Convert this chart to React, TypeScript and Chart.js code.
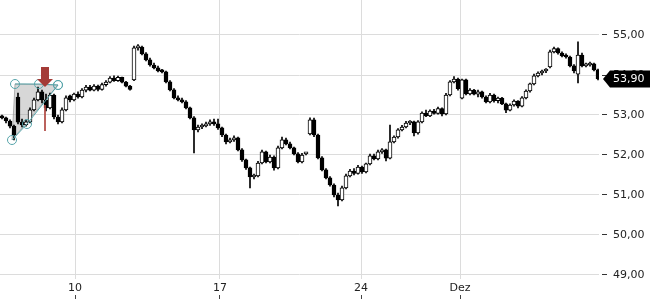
import React, { useEffect, useRef } from 'react';
import { Chart, registerables } from 'chart.js';

Chart.register(...registerables);

// OHLC candles (one per index)
const opens = [
  52.98, 52.93, 52.85, 52.72, 53.45, 52.82, 52.75, 52.83, 53.13, 53.38,
  53.58, 53.38, 53.18, 53.50, 52.95, 52.83, 53.13, 53.48, 53.38, 53.52,
  53.45, 53.62, 53.70, 53.62, 53.72, 53.64, 53.76, 53.82, 53.92, 53.86,
  53.94, 53.82, 53.72, 53.88, 54.68, 54.70, 54.53, 54.38, 54.25, 54.18,
  54.10, 54.08, 53.83, 53.63, 53.43, 53.38, 53.33, 53.18, 52.93, 52.63,
  52.70, 52.73, 52.78, 52.83, 52.78, 52.68, 52.50, 52.33, 52.38, 52.43,
  52.13, 51.88, 51.68, 51.45, 51.48, 51.80, 52.08, 51.83, 51.95, 51.68,
  52.18, 52.38, 52.28, 52.18, 52.03, 51.83, 52.03, 52.53, 52.88, 52.50,
  51.93, 51.63, 51.43, 51.25, 51.00, 50.88, 51.18, 51.48, 51.60, 51.54,
  51.70, 51.58, 51.78, 51.98, 51.90, 52.08, 52.13, 51.92, 52.33, 52.45,
  52.63, 52.70, 52.80, 52.83, 52.55, 52.83, 53.05, 52.98, 53.10, 53.04,
  53.16, 53.03, 53.50, 53.83, 53.90, 53.42, 53.88, 53.53, 53.62, 53.52,
  53.58, 53.45, 53.33, 53.50, 53.36, 53.42, 53.28, 53.12, 53.25, 53.35,
  53.22, 53.43, 53.60, 53.78, 53.98, 54.05, 54.10, 54.20, 54.58, 54.66,
  54.55, 54.48, 54.45, 54.23, 54.02, 54.50, 54.23, 54.25, 54.28, 54.13,
];
const highs = [
  53.00, 52.95, 52.88, 52.75, 53.55, 52.90, 52.88, 53.18, 53.42, 53.70,
  53.62, 53.52, 53.55, 53.52, 53.00, 53.18, 53.48, 53.50, 53.55, 53.58,
  53.66, 53.74, 53.74, 53.76, 53.75, 53.80, 53.86, 53.96, 53.98, 53.97,
  53.95, 53.84, 53.74, 54.72, 54.76, 54.72, 54.56, 54.42, 54.30, 54.22,
  54.14, 54.10, 53.86, 53.66, 53.48, 53.42, 53.36, 53.20, 52.96, 52.75,
  52.78, 52.82, 52.88, 52.90, 52.90, 52.70, 52.52, 52.42, 52.48, 52.45,
  52.16, 51.90, 51.70, 51.52, 51.84, 52.12, 52.10, 52.00, 51.98, 52.22,
  52.45, 52.42, 52.32, 52.20, 52.06, 52.04, 52.06, 52.93, 52.92, 52.52,
  51.96, 51.66, 51.46, 51.28, 51.05, 51.22, 51.52, 51.64, 51.66, 51.74,
  51.72, 51.80, 52.02, 52.02, 52.12, 52.16, 52.15, 52.75, 52.48, 52.66,
  52.74, 52.84, 52.86, 52.85, 52.86, 53.08, 53.12, 53.13, 53.14, 53.20,
  53.18, 53.54, 53.86, 53.96, 53.92, 53.90, 53.90, 53.66, 53.64, 53.62,
  53.60, 53.48, 53.54, 53.52, 53.45, 53.44, 53.30, 53.28, 53.38, 53.36,
  53.46, 53.63, 53.80, 54.02, 54.08, 54.12, 54.16, 54.62, 54.70, 54.68,
  54.58, 54.53, 54.47, 54.26, 54.83, 54.55, 54.30, 54.32, 54.30, 54.15,
];
const lows = [
  52.90, 52.80, 52.68, 52.38, 52.78, 52.70, 52.72, 52.80, 53.10, 53.35,
  53.30, 53.10, 53.15, 52.90, 52.78, 52.80, 53.10, 53.33, 53.35, 53.42,
  53.43, 53.58, 53.60, 53.60, 53.60, 53.62, 53.72, 53.80, 53.84, 53.84,
  53.80, 53.70, 53.62, 53.86, 54.62, 54.50, 54.35, 54.22, 54.15, 54.08,
  54.05, 53.80, 53.60, 53.40, 53.35, 53.30, 53.15, 52.90, 52.05, 52.58,
  52.66, 52.70, 52.74, 52.74, 52.64, 52.46, 52.28, 52.30, 52.34, 52.10,
  51.84, 51.64, 51.18, 51.40, 51.45, 51.78, 51.80, 51.80, 51.62, 51.65,
  52.15, 52.25, 52.15, 52.00, 51.80, 51.80, 52.00, 52.50, 52.46, 51.90,
  51.60, 51.40, 51.22, 50.95, 50.73, 50.85, 51.15, 51.45, 51.50, 51.52,
  51.54, 51.55, 51.75, 51.88, 51.88, 52.04, 51.85, 51.90, 52.30, 52.42,
  52.60, 52.68, 52.76, 52.48, 52.52, 52.80, 52.96, 52.96, 53.02, 53.02,
  52.98, 53.00, 53.48, 53.80, 53.62, 53.40, 53.50, 53.50, 53.50, 53.45,
  53.42, 53.30, 53.30, 53.32, 53.30, 53.26, 53.06, 53.10, 53.22, 53.18,
  53.20, 53.40, 53.57, 53.75, 53.95, 54.00, 54.06, 54.18, 54.55, 54.52,
  54.45, 54.42, 54.20, 54.05, 53.80, 54.20, 54.20, 54.22, 54.10, 53.88,
];
const closes = [
  52.93, 52.85, 52.72, 52.50, 52.82, 52.75, 52.83, 53.13, 53.38, 53.58,
  53.38, 53.18, 53.50, 52.95, 52.83, 53.13, 53.43, 53.38, 53.52, 53.45,
  53.62, 53.70, 53.62, 53.72, 53.64, 53.76, 53.82, 53.92, 53.86, 53.94,
  53.82, 53.72, 53.64, 54.68, 54.70, 54.53, 54.38, 54.25, 54.18, 54.10,
  54.08, 53.83, 53.63, 53.43, 53.38, 53.33, 53.18, 52.93, 52.63, 52.70,
  52.73, 52.78, 52.83, 52.78, 52.68, 52.50, 52.33, 52.38, 52.43, 52.13,
  51.88, 51.68, 51.45, 51.48, 51.80, 52.08, 51.83, 51.95, 51.68, 52.18,
  52.38, 52.28, 52.18, 52.03, 51.83, 52.00, 52.03, 52.88, 52.50, 51.93,
  51.63, 51.43, 51.25, 51.00, 50.88, 51.18, 51.48, 51.60, 51.54, 51.70,
  51.58, 51.78, 51.98, 51.90, 52.08, 52.13, 51.92, 52.33, 52.45, 52.63,
  52.70, 52.80, 52.83, 52.55, 52.83, 53.05, 52.98, 53.10, 53.04, 53.16,
  53.03, 53.50, 53.83, 53.90, 53.66, 53.88, 53.53, 53.62, 53.52, 53.58,
  53.45, 53.33, 53.50, 53.36, 53.42, 53.28, 53.12, 53.25, 53.35, 53.22,
  53.43, 53.60, 53.78, 53.98, 54.05, 54.10, 54.13, 54.58, 54.66, 54.55,
  54.48, 54.45, 54.23, 54.10, 54.50, 54.23, 54.25, 54.28, 54.13, 53.90,
];

const xTickValues = [18.25, 54.5, 89.75, 114.5];
const xTickLabels = ['10', '17', '24', 'Dez'];
const yTickValues = [49, 50, 51, 52, 53, 54, 55];
const lastPrice = 53.9;

// drawing annotations (data coordinates: candle index, price)
const shapeX = [3.25, 14.0, 2.5, 3.25];
const shapeY = [53.775, 53.75, 52.375, 53.775];
const topLineX = [3.25, 9.25, 14.0];
const topLineY = [53.775, 53.775, 53.75];
const diagLineX = [2.5, 6.25, 14.0];
const diagLineY = [52.375, 52.775, 53.75];
const arrowX = [10.75];
const arrowY = [53.95];
const markerX = [10.75, 10.75];
const markerY = [53.25, 52.6];

const fmt = (v: number) => v.toFixed(2).replace('.', ',');
const pts = (xs: number[], ys: number[]) => xs.map((x, i) => ({ x, y: ys[i] }));

const FONT = '"DejaVu Sans", sans-serif';

const noPad = (s: any) => {
  s.paddingTop = 0;
  s.paddingBottom = 0;
  s.paddingLeft = 0;
  s.paddingRight = 0;
};

const priceTagPlugin = {
  id: 'priceTag',
  afterDraw(chart: any) {
    const { ctx, chartArea } = chart;
    const y = chart.scales.y.getPixelForValue(lastPrice);
    const tip = chartArea.right + 4;
    const h = 8.5;
    ctx.save();
    ctx.fillStyle = '#000';
    ctx.beginPath();
    ctx.moveTo(tip, y);
    ctx.lineTo(tip + 7, y - h);
    ctx.lineTo(chart.width, y - h);
    ctx.lineTo(chart.width, y + h);
    ctx.lineTo(tip + 7, y + h);
    ctx.closePath();
    ctx.fill();
    ctx.fillStyle = '#fff';
    ctx.font = '11px ' + FONT;
    ctx.textBaseline = 'middle';
    ctx.textAlign = 'left';
    ctx.fillText(fmt(lastPrice), chartArea.right + 14, y + 0.5);
    ctx.restore();
  },
};

function makeArrow() {
  const c = document.createElement('canvas');
  c.width = 16;
  c.height = 20;
  const g = c.getContext('2d')!;
  g.fillStyle = '#a43b37';
  g.fillRect(4, 0, 8, 12);
  g.beginPath();
  g.moveTo(0, 12);
  g.lineTo(16, 12);
  g.lineTo(8, 20);
  g.closePath();
  g.fill();
  return c;
}

export default function App() {
  const ref = useRef<HTMLCanvasElement>(null);

  useEffect(() => {
    if (!ref.current) return;
    const teal = 'rgb(86,164,170)';
    const bodyColors = closes.map((c, i) => (c >= opens[i] ? '#ffffff' : '#000000'));
    const setXTicks = (scale: any) => {
      scale.ticks = xTickValues.map((v) => ({ value: v }));
    };
    const chart = new Chart(ref.current, {
      type: 'bar',
      data: {
        datasets: [
          {
            type: 'bar',
            data: closes.map((c, i) => ({ x: i, y: [opens[i], c] })) as any,
            backgroundColor: bodyColors,
            borderColor: '#000',
            borderWidth: 1,
            borderSkipped: false,
            barThickness: 4,
            maxBarThickness: 4,
            barPercentage: 1,
            categoryPercentage: 1,
            grouped: false,
            minBarLength: 2,
            order: 4,
          } as any,
          {
            type: 'bar',
            data: highs.map((h, i) => ({ x: i, y: [lows[i], h] })) as any,
            backgroundColor: '#000',
            borderWidth: 0,
            barThickness: 1,
            maxBarThickness: 1,
            barPercentage: 1,
            categoryPercentage: 1,
            grouped: false,
            order: 5,
          } as any,
          {
            type: 'line',
            data: pts(shapeX, shapeY),
            borderColor: 'rgba(150,150,150,0.7)',
            borderWidth: 1,
            backgroundColor: 'rgba(150,150,150,0.38)',
            fill: 'shape',
            pointRadius: 0,
            tension: 0,
            order: 10,
          } as any,
          {
            type: 'line',
            data: pts(topLineX, topLineY),
            borderColor: teal,
            borderWidth: 1,
            pointRadius: 4.5,
            pointBorderColor: teal,
            pointBorderWidth: 1,
            pointBackgroundColor: 'rgba(0,0,0,0)',
            fill: false,
            tension: 0,
            order: 2,
          } as any,
          {
            type: 'line',
            data: pts(diagLineX, diagLineY),
            borderColor: teal,
            borderWidth: 1,
            pointRadius: 4.5,
            pointBorderColor: teal,
            pointBorderWidth: 1,
            pointBackgroundColor: 'rgba(0,0,0,0)',
            fill: false,
            tension: 0,
            order: 2,
          } as any,
          {
            type: 'line',
            data: pts(markerX, markerY),
            borderColor: 'rgba(175,70,65,0.85)',
            borderWidth: 2,
            pointRadius: 0,
            fill: false,
            order: 3,
          } as any,
          {
            type: 'line',
            data: pts(arrowX, arrowY),
            showLine: false,
            pointStyle: makeArrow(),
            pointRadius: 10,
            order: 1,
          } as any,
        ],
      },
      options: {
        responsive: false,
        animation: false,
        events: [],
        layout: { padding: 0, autoPadding: false },
        plugins: { legend: { display: false }, tooltip: { enabled: false } },
        scales: {
          x: {
            type: 'linear',
            position: 'bottom',
            min: -0.5,
            max: 149.25,
            offset: false,
            weight: 0,
            grid: { color: '#dcdcdc', drawTicks: false, offset: false },
            border: { display: false },
            afterBuildTicks: setXTicks,
            afterFit: (s: any) => {
              s.height = 16;
              noPad(s);
            },
            ticks: {
              padding: 3,
              maxRotation: 0,
              autoSkip: false,
              color: '#222',
              font: { family: FONT, size: 11 },
              callback: (v: any) => {
                const k = xTickValues.indexOf(Number(v));
                return k >= 0 ? xTickLabels[k] : '';
              },
            },
          },
          x2: {
            type: 'linear',
            position: 'bottom',
            axis: 'x',
            min: -0.5,
            max: 149.25,
            offset: false,
            weight: 1,
            grid: {
              drawOnChartArea: false,
              drawTicks: true,
              tickLength: 4,
              color: '#444',
              tickColor: '#444',
              offset: false,
            },
            border: { display: false },
            afterBuildTicks: setXTicks,
            afterFit: (s: any) => {
              s.height = 5;
              noPad(s);
            },
            ticks: { display: false },
          } as any,
          y: {
            type: 'linear',
            position: 'right',
            min: 48.9,
            max: 55.875,
            grid: {
              color: '#dcdcdc',
              drawTicks: true,
              tickLength: 8,
              tickColor: '#333',
              tickBorderDash: [0, 3, 5, 20],
            } as any,
            border: { display: false },
            afterBuildTicks: (scale: any) => {
              scale.ticks = yTickValues.map((v) => ({ value: v }));
            },
            afterFit: (s: any) => {
              s.width = 51;
              noPad(s);
            },
            ticks: {
              padding: 6,
              color: '#222',
              font: { family: FONT, size: 11 },
              callback: (v: any) => fmt(Number(v)),
            },
          },
        },
      } as any,
      plugins: [priceTagPlugin],
    });
    return () => chart.destroy();
  }, []);

  return (
    <div style={{ position: 'fixed', left: 0, top: 0, width: 650, height: 300, background: '#fff' }}>
      <canvas ref={ref} width={650} height={300} style={{ display: 'block' }} />
    </div>
  );
}
